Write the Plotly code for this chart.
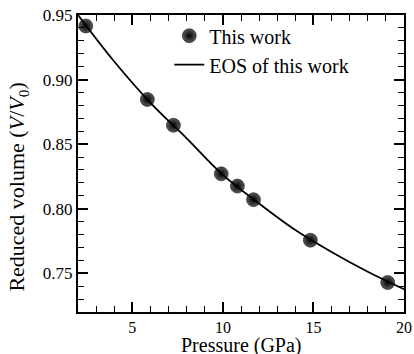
import plotly.graph_objects as go

# Experimental points (This work)
pressure_pts = [2.43, 5.83, 7.27, 9.91, 10.8, 11.69, 14.83, 19.1]
volume_pts = [0.9415, 0.8846, 0.8646, 0.827, 0.8175, 0.807, 0.7756, 0.7428]

# EOS curve
pressure_eos = [2, 4, 6, 8, 10, 12, 14, 16, 18, 20]
volume_eos = [0.950, 0.914, 0.882, 0.8545, 0.8262, 0.8040, 0.7835, 0.7665, 0.7512, 0.7377]

x_title = "Pressure (GPa)"
y_title = "Reduced volume (<i>V</i>/<i>V</i><sub>0</sub>)"

FONT = "Liberation Serif"

fig = go.Figure()
fig.add_trace(go.Scatter(
    x=pressure_pts, y=volume_pts, mode="markers", name="This work",
    marker=dict(size=14, color="#5a5a5a", symbol="circle",
                gradient=dict(type="radial", color="#000000"),
                line=dict(width=0.5, color="black")),
))
fig.add_trace(go.Scatter(
    x=pressure_eos, y=volume_eos, mode="lines", name="EOS of this work",
    line=dict(color="black", width=1.8, shape="spline"),
))

axis_common = dict(
    showline=True, linecolor="black", linewidth=2, mirror="ticks",
    ticks="inside", ticklen=10, tickwidth=1.5, tickcolor="black",
    showgrid=False, zeroline=False, automargin=False,
    tickfont=dict(family=FONT, size=17, color="black"),
)

fig.update_layout(
    width=414, height=354,
    margin=dict(l=78, r=10, t=15, b=42),
    paper_bgcolor="white", plot_bgcolor="white",
    showlegend=True,
    font=dict(family=FONT, color="black"),
    legend=dict(x=0.28, y=0.996, xanchor="left", yanchor="top",
                bgcolor="rgba(0,0,0,0)",
                font=dict(family=FONT, size=20, color="black")),
    xaxis=dict(range=[2, 20], tick0=0, dtick=5,
               minor=dict(dtick=1, ticks="inside", ticklen=6, tickcolor="black", tickwidth=1.2),
               **axis_common),
    yaxis=dict(range=[0.72, 0.95], tick0=0, dtick=0.05, tickformat=".2f",
               minor=dict(dtick=0.01, ticks="inside", ticklen=6, tickcolor="black", tickwidth=1.2),
               **axis_common),
)
fig.update_xaxes(tickfont=dict(size=16))

fig.add_annotation(text=x_title, xref="paper", yref="paper", x=0.5, y=-0.113,
                   xanchor="center", yanchor="middle", showarrow=False,
                   font=dict(family=FONT, size=20, color="black"))
fig.add_annotation(text=y_title, xref="paper", yref="paper", x=-0.183, y=0.42,
                   xanchor="center", yanchor="middle", showarrow=False, textangle=-90,
                   font=dict(family=FONT, size=22, color="black"))

fig.write_html("out.html")
